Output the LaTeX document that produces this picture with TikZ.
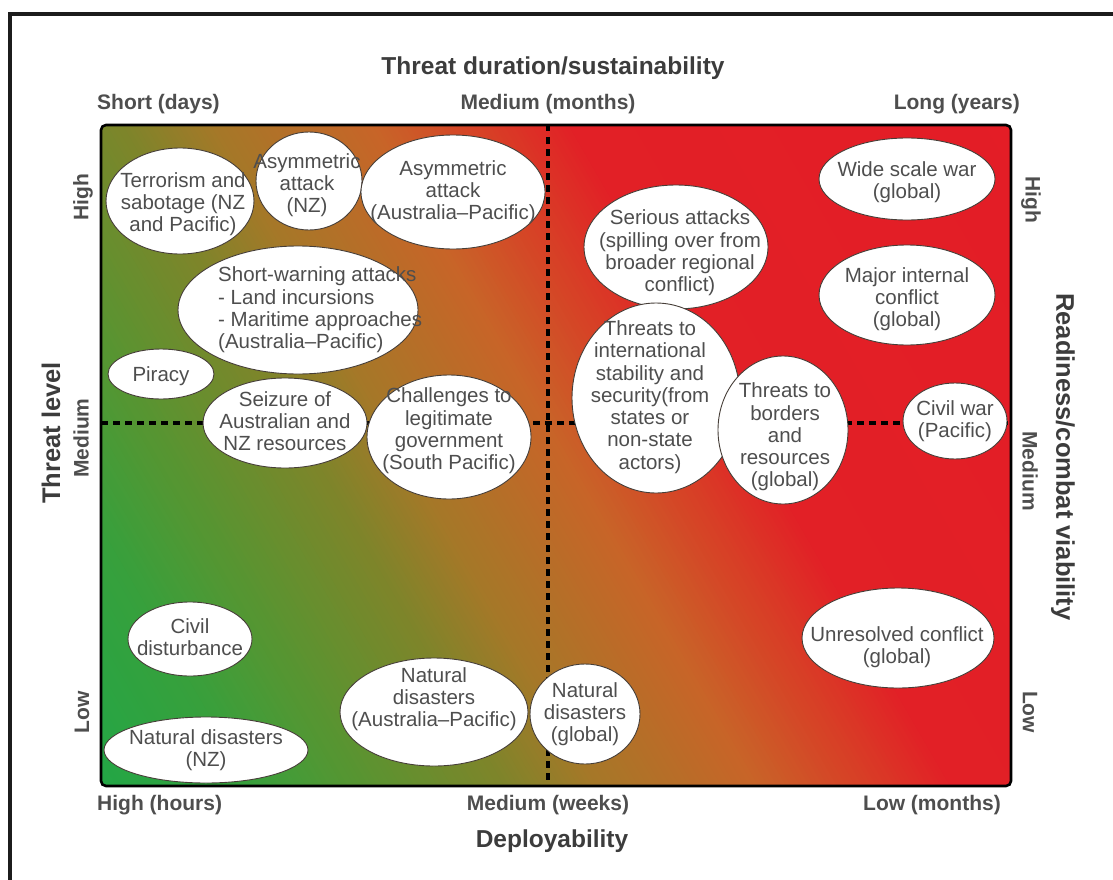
\documentclass[tikz,border=0pt]{standalone}
\usepackage{fontspec}
\setmainfont{Liberation Sans}
\usetikzlibrary{shapes.geometric}

% colour ramp of the threat field (green -> olive -> orange -> red)
\definecolor{g0}{RGB}{30,168,72}
\definecolor{g1}{RGB}{55,160,60}
\definecolor{g2}{RGB}{85,150,50}
\definecolor{g3}{RGB}{125,133,42}
\definecolor{g4}{RGB}{165,120,40}
\definecolor{g5}{RGB}{200,100,40}
\definecolor{g6}{RGB}{215,65,38}
\definecolor{g7}{RGB}{226,32,38}
\definecolor{g8}{RGB}{228,28,38}
\definecolor{ink}{RGB}{78,78,78}
\definecolor{heading}{RGB}{60,60,60}
\definecolor{edge}{RGB}{70,62,56}
\definecolor{frame}{RGB}{28,28,28}

\tikzset{
  blob/.style={ellipse, draw=edge, line width=0.9pt, fill=white, inner sep=0pt},
  note/.style={text=ink, font=\fontsize{20.5}{22.3}\selectfont, align=center, inner sep=0pt},
  tick/.style={text=ink, font=\bfseries\fontsize{21}{24}\selectfont, inner sep=0pt},
  axis/.style={text=heading, font=\bfseries\fontsize{24.5}{28}\selectfont, inner sep=0pt},
  divider/.style={line width=4.5pt, dash pattern=on 6.5pt off 5.5pt, black},
}

\begin{document}
\begin{tikzpicture}[x=1pt,y=-1pt]
\useasboundingbox (0,0) rectangle (1113,880);

% outer frame (top and left rules)
\coordinate (fTR) at (1116,14);
\coordinate (fTL) at (10,14);
\coordinate (fBL) at (10,883);
\draw[frame, line width=3.6pt, line join=miter] (fTR) -- (fTL) -- (fBL);

% plot area corners
\coordinate (nw) at (101,125);
\coordinate (se) at (1011,786);

% diagonal colour field
\begin{scope}
  \clip[rounded corners=5pt] (nw) rectangle (se);
  \begin{scope}[shift={(0,880)}, rotate=30]
    \foreach \ta/\tb/\ca/\cb in {60/100/g0/g0, 100/260/g0/g1, 260/350/g1/g2,
        350/480/g2/g3, 480/560/g3/g4, 560/700/g4/g5, 700/790/g5/g6,
        790/870/g6/g7, 870/1320/g7/g8}{
      \pgfmathtruncatemacro\n{(\tb-\ta)/4}
      \foreach \k in {0,...,\n}{
        \pgfmathtruncatemacro\pct{round(100*\k/\n)}
        \fill[\cb!\pct!\ca] ({\ta+4*\k},-1600) rectangle ++(4.8,3200);
      }
    }
  \end{scope}
\end{scope}

% quadrant dividers
\coordinate (vTop) at (548,125);
\coordinate (vBot) at (548,786);
\coordinate (hL) at (101,423);
\coordinate (hR) at (1011,423);
\draw[divider] (vTop) -- (vBot);
\draw[divider] (hL) -- (hR);

% threat ellipses
\node[blob, minimum width=148pt, minimum height=106pt] (terror) at (180,201) {};
\node[blob, minimum width=106pt, minimum height=98pt] (asymnz) at (309,181) {};
\node[blob, minimum width=184pt, minimum height=114pt] (asymap) at (453,192) {};
\node[blob, minimum width=240pt, minimum height=128pt] (shortw) at (298,310) {};
\node[blob, minimum width=106pt, minimum height=50pt] (piracy) at (161,374) {};
\node[blob, minimum width=164pt, minimum height=90pt] (seizure) at (285,423) {};
\node[blob, minimum width=164pt, minimum height=124pt] (legit) at (449,437) {};
\node[blob, minimum width=184pt, minimum height=124pt] (serious) at (676,247) {};
\node[blob, minimum width=168pt, minimum height=190pt] (intl) at (656,398) {};
\node[blob, minimum width=130pt, minimum height=148pt] (borders) at (783,430) {};
\node[blob, minimum width=176pt, minimum height=82pt] (widewar) at (907,179) {};
\node[blob, minimum width=176pt, minimum height=100pt] (internal) at (907,295) {};
\node[blob, minimum width=104pt, minimum height=76pt] (civilwar) at (955,421) {};
\node[blob, minimum width=192pt, minimum height=100pt] (unresolved) at (898,638) {};
\node[blob, minimum width=124pt, minimum height=74pt] (civildist) at (190,639) {};
\node[blob, minimum width=204pt, minimum height=66pt] (natnz) at (206,750) {};
\node[blob, minimum width=188pt, minimum height=108pt] (natap) at (434,712) {};
\node[blob, minimum width=110pt, minimum height=100pt] (natglobal) at (585,714) {};

% ellipse texts
\node[note] (terror-t) at (183,204) {Terrorism and\\sabotage (NZ\\and Pacific)};
\node[note] (asymnz-t) at (307,185) {Asymmetric\\attack\\(NZ)};
\node[note] (asymap-t) at (453,192) {Asymmetric\\attack\\(Australia–Pacific)};
\node[note, align=left, anchor=west] (shortw-t) at (218,310) {Short-warning attacks\\- Land incursions\\- Maritime approaches\\(Australia–Pacific)};
\node[note] (piracy-t) at (161,376) {Piracy};
\node[note] (seizure-t) at (285,421) {Seizure of\\Australian and\\NZ resources};
\node[note] (legit-t) at (449,431) {Challenges to\\legitimate\\government\\(South Pacific)};
\node[note] (serious-t) at (680,253) {Serious attacks\\(spilling over from\\broader regional\\conflict)};
\node[note] (intl-t) at (650,397) {Threats to\\international\\stability and\\security(from\\states or\\non-state\\actors)};
\node[note] (borders-t) at (785,437) {Threats to\\borders\\and\\resources\\(global)};
\node[note] (widewar-t) at (907,182) {Wide scale war\\(global)};
\node[note] (internal-t) at (907,299) {Major internal\\conflict\\(global)};
\node[note] (civilwar-t) at (955,421) {Civil war\\(Pacific)};
\node[note] (unresolved-t) at (897,647) {Unresolved conflict\\(global)};
\node[note] (civildist-t) at (190,637) {Civil\\disturbance};
\node[note] (natnz-t) at (206,750) {Natural disasters\\(NZ)};
\node[note] (natap-t) at (434,699) {Natural\\disasters\\(Australia–Pacific)};
\node[note] (natglobal-t) at (585,714) {Natural\\disasters\\(global)};

% plot area border
\draw[black, line width=2.6pt, rounded corners=5pt] (nw) rectangle (se);

% top axis
\node[axis] (topaxis) at (553,68) {Threat duration/sustainability};
\node[tick, anchor=west] (tShort) at (97,104) {Short (days)};
\node[tick] (tMed) at (548,104) {Medium (months)};
\node[tick, anchor=east] (tLong) at (1020,104) {Long (years)};

% bottom axis
\node[tick, anchor=west] (bHigh) at (97,805) {High (hours)};
\node[tick] (bMed) at (548,805) {Medium (weeks)};
\node[tick, anchor=east] (bLow) at (1001,805) {Low (months)};
\node[axis] (botaxis) at (552,841) {Deployability};

% left axis
\node[axis, rotate=90, font=\bfseries\fontsize{25.5}{28}\selectfont] (leftaxis) at (51,433) {Threat level};
\node[tick, rotate=90] (lHigh) at (83,197) {High};
\node[tick, rotate=90] (lMed) at (81,438) {Medium};
\node[tick, rotate=90] (lLow) at (82,712) {Low};

% right axis
\node[axis, rotate=-90, font=\bfseries\fontsize{25.5}{28}\selectfont] (rightaxis) at (1063,457) {Readiness/combat viability};
\node[tick, rotate=-90] (rHigh) at (1031,200) {High};
\node[tick, rotate=-90] (rMed) at (1030,471) {Medium};
\node[tick, rotate=-90] (rLow) at (1030,712) {Low};
\end{tikzpicture}
\end{document}
